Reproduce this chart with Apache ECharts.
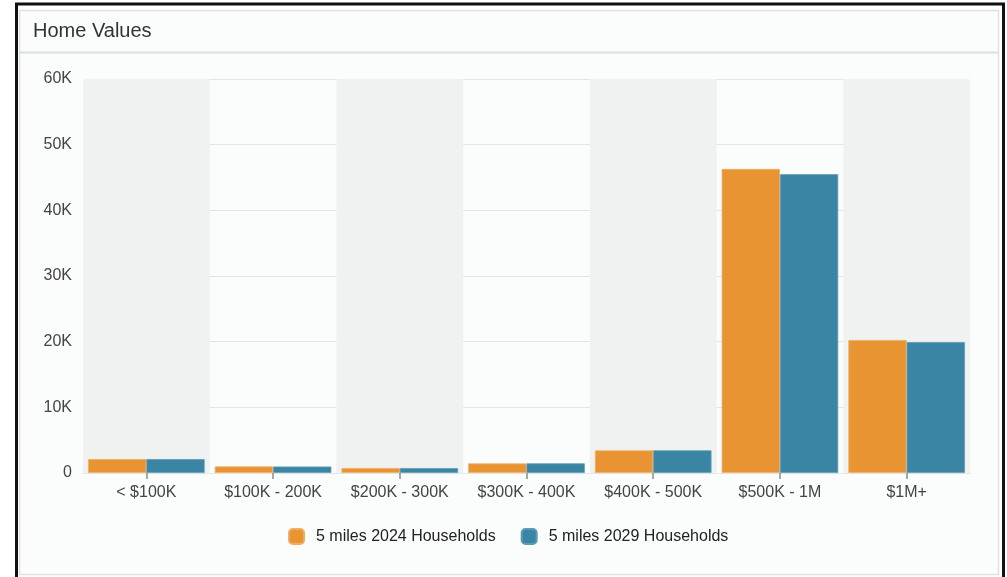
<!DOCTYPE html>
<html>
<head>
<meta charset="utf-8">
<style>
  html, body { margin: 0; padding: 0; background: #ffffff; }
  #chart { width: 1007px; height: 577px; }
</style>
<script src="https://cdn.jsdelivr.net/npm/echarts@6/dist/echarts.min.js"></script>
</head>
<body>
<div id="chart"></div>
<script>
// Home value ranges and household counts within 5 miles
const categories = ['< $100K', '$100K - 200K', '$200K - 300K', '$300K - 400K', '$400K - 500K', '$500K - 1M', '$1M+'];
const households2024 = [2130, 1000, 760, 1460, 3440, 46300, 20250];
const households2029 = [2120, 990, 750, 1470, 3450, 45500, 19950];
const seriesNames = ['5 miles 2024 Households', '5 miles 2029 Households'];
const yTicks = { min: 0, max: 60000, step: 10000 };

const FONT = '"Liberation Sans", Arial, Helvetica, sans-serif';

const chart = echarts.init(document.getElementById('chart'), null, { renderer: 'canvas' });

chart.setOption({
  animation: false,
  textStyle: { fontFamily: FONT },
  graphic: [
    // outer dark frame
    { type: 'rect', z: -10, silent: true,
      shape: { x: 16.5, y: 4, width: 987, height: 600 },
      style: { fill: '#ffffff', stroke: '#111111', lineWidth: 3 } },
    // inner panel
    { type: 'rect', z: -9, silent: true,
      shape: { x: 19.5, y: 10.5, width: 979, height: 564 },
      style: { fill: '#fbfcfc', stroke: '#dfe1e1', lineWidth: 1.5 } },
    // header divider
    { type: 'line', z: -9, silent: true,
      shape: { x1: 19, y1: 52.5, x2: 999, y2: 52.5 },
      style: { stroke: '#dcdfdf', lineWidth: 2 } }
  ],
  title: {
    text: 'Home Values',
    left: 33, top: 21, padding: 0,
    textStyle: { fontFamily: FONT, fontSize: 20, fontWeight: 'normal', color: '#333333' }
  },
  legend: {
    data: seriesNames,
    top: 523, left: 283,
    icon: 'roundRect',
    itemWidth: 15, itemHeight: 15, itemGap: 25,
    textStyle: { fontFamily: FONT, fontSize: 16, color: '#222222', padding: [0, 0, 0, 7] }
  },
  grid: { left: 83, right: 37, top: 79, bottom: 104 },
  xAxis: {
    type: 'category',
    data: categories,
    axisLine: { show: true, lineStyle: { color: '#e6e8e8' } },
    axisTick: { show: true, alignWithLabel: true, interval: 0, length: 6, lineStyle: { color: '#8a8a8a', width: 1.5 } },
    axisLabel: { fontFamily: FONT, fontSize: 16, color: '#444444', margin: 12, interval: 0 },
    splitArea: { show: true, interval: 0, areaStyle: { color: ['#f0f1f1', 'rgba(255,255,255,0)'] } }
  },
  yAxis: {
    type: 'value',
    min: yTicks.min, max: yTicks.max, interval: yTicks.step,
    axisLine: { show: false },
    axisTick: { show: false },
    axisLabel: {
      fontFamily: FONT, fontSize: 16, color: '#444444', margin: 11,
      formatter: v => v === 0 ? '0' : (v / 1000) + 'K'
    },
    splitLine: { show: true, lineStyle: { color: '#e3e5e5', width: 1 } }
  },
  series: [
    {
      name: seriesNames[0], type: 'bar', data: households2024,
      barGap: '0%', barCategoryGap: '8%',
      itemStyle: { color: '#e99432', borderColor: '#efad62', borderWidth: 0.8 }
    },
    {
      name: seriesNames[1], type: 'bar', data: households2029,
      barGap: '0%', barCategoryGap: '8%',
      itemStyle: { color: '#3a85a3', borderColor: '#5e9cb5', borderWidth: 0.8 }
    }
  ]
});
</script>
</body>
</html>
